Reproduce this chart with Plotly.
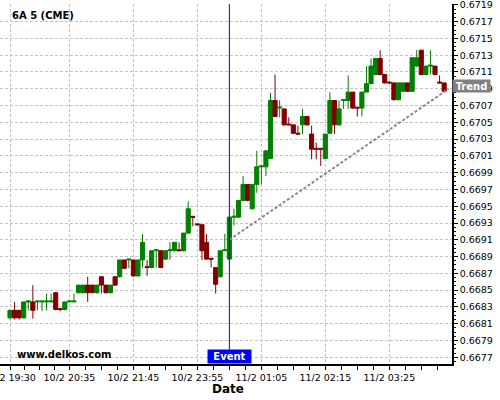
import pandas as pd
import plotly.graph_objects as go

# ---- data ----
seg1 = pd.date_range("2025-02-10 19:30", periods=30, freq="5min")
seg2 = pd.date_range("2025-02-10 23:00", periods=66, freq="5min")
times = [f"{d.day}/{d.month} {d:%H:%M}" for d in list(seg1) + list(seg2)]

open_ = [0.66817, 0.66826, 0.66826, 0.66817, 0.66836, 0.66836, 0.66836, 0.66836, 0.66836, 0.66836,
         0.66847, 0.66828, 0.66827, 0.66836, 0.66836, 0.66847, 0.66847, 0.66856, 0.66856, 0.66847,
         0.66866, 0.66856, 0.66847, 0.66866, 0.66866, 0.66886, 0.66886, 0.66886, 0.66867, 0.66886,
         0.66878, 0.66877, 0.66897, 0.66897, 0.66887, 0.66897, 0.66897, 0.66898, 0.66897, 0.66918,
         0.66938, 0.66929, 0.66928, 0.66907, 0.66888, 0.66877, 0.66866, 0.66897, 0.66887, 0.66937,
         0.66937, 0.66957, 0.66976, 0.66947, 0.66976, 0.66997, 0.66997, 0.67007, 0.67076, 0.67067,
         0.67066, 0.67048, 0.67047, 0.67037, 0.67047, 0.67057, 0.67036, 0.67019, 0.67019, 0.67007,
         0.67037, 0.67076, 0.67047, 0.67076, 0.67076, 0.67086, 0.67068, 0.67067, 0.67086, 0.67096,
         0.67107, 0.67126, 0.67107, 0.67098, 0.67097, 0.67077, 0.67087, 0.67097, 0.67087, 0.67117,
         0.67136, 0.67107, 0.67117, 0.67117, 0.67098, 0.67097]
high = [0.66826, 0.66836, 0.66826, 0.66836, 0.66838, 0.66856, 0.66837, 0.66837, 0.66846, 0.66846,
        0.66847, 0.66828, 0.66836, 0.66837, 0.66846, 0.66856, 0.66856, 0.66866, 0.66856, 0.66856,
        0.66866, 0.66856, 0.66856, 0.66866, 0.66886, 0.66886, 0.66887, 0.66886, 0.66886, 0.66917,
        0.66886, 0.66897, 0.66898, 0.66897, 0.66897, 0.66907, 0.66907, 0.66907, 0.66918, 0.66956,
        0.66938, 0.66929, 0.66928, 0.66917, 0.66888, 0.66877, 0.66897, 0.66917, 0.66937, 0.66947,
        0.66957, 0.66986, 0.66976, 0.66976, 0.67016, 0.66998, 0.67016, 0.67085, 0.67107, 0.67076,
        0.67066, 0.67056, 0.67047, 0.67046, 0.67066, 0.67057, 0.67046, 0.67026, 0.67019, 0.67036,
        0.67086, 0.67076, 0.67076, 0.67077, 0.67106, 0.67086, 0.67068, 0.67086, 0.67117, 0.67126,
        0.67127, 0.67136, 0.67107, 0.67098, 0.67097, 0.67097, 0.67097, 0.67097, 0.67127, 0.67136,
        0.67136, 0.67117, 0.67136, 0.67117, 0.67106, 0.67097]
low = [0.66815, 0.66815, 0.66815, 0.66816, 0.66826, 0.66816, 0.66826, 0.66825, 0.66826, 0.66836,
       0.66826, 0.66825, 0.66826, 0.66836, 0.66836, 0.66846, 0.66846, 0.66836, 0.66847, 0.66846,
       0.66846, 0.66846, 0.66846, 0.66855, 0.66865, 0.66875, 0.66876, 0.66866, 0.66866, 0.66877,
       0.66867, 0.66876, 0.66877, 0.66876, 0.66886, 0.66886, 0.66896, 0.66897, 0.66896, 0.66917,
       0.66926, 0.66927, 0.66886, 0.66886, 0.66877, 0.66846, 0.66865, 0.66897, 0.66886, 0.66927,
       0.66936, 0.66956, 0.66956, 0.66946, 0.66966, 0.66976, 0.66986, 0.67006, 0.67056, 0.67056,
       0.67046, 0.67047, 0.67036, 0.67035, 0.67036, 0.67046, 0.67006, 0.67006, 0.66998, 0.67006,
       0.67036, 0.67036, 0.67046, 0.67066, 0.67066, 0.67066, 0.67057, 0.67057, 0.67086, 0.67096,
       0.67106, 0.67106, 0.67096, 0.67096, 0.67076, 0.67076, 0.67086, 0.67086, 0.67086, 0.67116,
       0.67106, 0.67106, 0.67107, 0.67106, 0.67096, 0.67086]
close = [0.66826, 0.66817, 0.66817, 0.66836, 0.66837, 0.66826, 0.66837, 0.66837, 0.66837, 0.66837,
         0.66827, 0.66827, 0.66836, 0.66837, 0.66837, 0.66856, 0.66856, 0.66847, 0.66847, 0.66856,
         0.66856, 0.66847, 0.66856, 0.66856, 0.66886, 0.66876, 0.66887, 0.66867, 0.66886, 0.66907,
         0.66877, 0.66897, 0.66898, 0.66877, 0.66897, 0.66898, 0.66907, 0.66897, 0.66918, 0.66947,
         0.66937, 0.66928, 0.66897, 0.66887, 0.66887, 0.66857, 0.66897, 0.66898, 0.66937, 0.66938,
         0.66957, 0.66976, 0.66957, 0.66976, 0.66997, 0.66998, 0.67016, 0.67076, 0.67057, 0.67068,
         0.67047, 0.67047, 0.67037, 0.67036, 0.67057, 0.67047, 0.67018, 0.67018, 0.67018, 0.67036,
         0.67076, 0.67047, 0.67066, 0.67077, 0.67086, 0.67067, 0.67067, 0.67086, 0.67096, 0.67117,
         0.67126, 0.67107, 0.67097, 0.67097, 0.67077, 0.67097, 0.67097, 0.67087, 0.67127, 0.67127,
         0.67107, 0.67117, 0.67118, 0.67107, 0.67097, 0.67087]

tick_labels = ["10/2 19:30", "10/2 20:35", "10/2 21:45", "10/2 23:55",
               "11/2 01:05", "11/2 02:15", "11/2 03:25"]
event_time = "11/2 00:30"
trend_prices = [0.66910, 0.67090]

title_text = "6A 5 (CME)"
watermark = "www.delkos.com"

# ---- derived positions ----
idx = list(range(len(times)))
tickvals = [times.index(t) for t in tick_labels]
event_idx = times.index(event_time)
trend_x = [event_idx, len(times)]

minor_vals = []
for a, b in zip(tickvals[:-1], tickvals[1:]):
    for k in range(1, 4):
        minor_vals.append(a + (b - a) * k / 4)
step = (tickvals[-1] - tickvals[-2]) / 4
v = tickvals[-1] + step
while v < len(times) + 1:
    minor_vals.append(v)
    v += step

GREEN = "#008000"
RED = "#800000"
FONT = "DejaVu Sans"
PLOT_W, PLOT_H = 452, 360

fig = go.Figure()
fig.add_trace(go.Candlestick(
    x=idx, open=open_, high=high, low=low, close=close,
    increasing=dict(line=dict(color=GREEN, width=1), fillcolor=GREEN),
    decreasing=dict(line=dict(color=RED, width=1), fillcolor=RED),
    whiskerwidth=0, showlegend=False, hoverinfo="skip",
))
fig.add_trace(go.Scatter(
    x=trend_x, y=trend_prices, mode="lines",
    line=dict(color="#8a8a8a", width=2, dash="3px,2px"),
    showlegend=False, hoverinfo="skip",
))

fig.add_shape(type="line", xref="x", yref="paper",
              x0=event_idx, x1=event_idx, y0=14 / PLOT_H, y1=1,
              line=dict(color="#0000ee", width=1))

fig.add_annotation(x=event_idx, xref="x", y=0, yref="paper",
                   xanchor="center", yanchor="bottom", text="<b>Event</b>",
                   showarrow=False, bgcolor="#0000ff", width=43, height=13,
                   borderpad=0, font=dict(family=FONT, size=10, color="white"))
fig.add_annotation(x=1, xref="paper", y=trend_prices[-1], yref="y",
                   xanchor="left", yanchor="middle", text="<b>Trend</b>",
                   showarrow=False, bgcolor="#808080", width=37, height=12,
                   borderpad=0, yshift=3,
                   font=dict(family=FONT, size=10, color="white"))
fig.add_annotation(x=10 / PLOT_W, xref="paper", y=1 - 11 / PLOT_H, yref="paper",
                   xanchor="left", yanchor="middle",
                   text=f"<b>{title_text}</b>", showarrow=False,
                   font=dict(family=FONT, size=10, color="black"))
fig.add_annotation(x=15 / PLOT_W, xref="paper", y=10 / PLOT_H, yref="paper",
                   text=f"<b>{watermark}</b>",
                   showarrow=False, xanchor="left", yanchor="middle",
                   font=dict(family=FONT, size=10, color="black"))
fig.add_annotation(x=228 / PLOT_W, xref="paper", y=-25 / PLOT_H, yref="paper",
                   text="<b>Date</b>",
                   showarrow=False, xanchor="center", yanchor="middle",
                   font=dict(family=FONT, size=12, color="black"))

fig.update_layout(
    width=500, height=400,
    margin=dict(l=0, r=48, t=4, b=36, autoexpand=False),
    paper_bgcolor="white", plot_bgcolor="white",
    font=dict(family=FONT, size=9.5, color="black"),
    boxgap=0.1, boxgroupgap=0,
    showlegend=False,
    xaxis=dict(
        range=[-2.19, 96.72], rangeslider=dict(visible=False),
        automargin=False,
        tickmode="array", tickvals=tickvals, ticktext=tick_labels,
        ticks="outside", ticklen=4, tickcolor="black",
        ticklabeloverflow="allow",
        showgrid=True, gridcolor="#c4c4c4", griddash="3px,2px", gridwidth=1,
        showline=True, linecolor="black", linewidth=1.5,
        zeroline=False,
        minor=dict(tickmode="array", tickvals=minor_vals, ticks="outside",
                   ticklen=4, tickcolor="black", showgrid=False),
        tickfont=dict(family=FONT, size=9.5),
    ),
    yaxis=dict(
        side="right", range=[0.66762, 0.67191],
        automargin=False,
        tick0=0.6677, dtick=0.0002, tickformat=".4f",
        ticks="outside", ticklen=4, tickcolor="black",
        ticklabeloverflow="allow",
        showgrid=True, gridcolor="#c4c4c4", griddash="3px,2px", gridwidth=1,
        showline=True, linecolor="black", linewidth=1.5,
        zeroline=False,
        minor=dict(dtick=0.00005, ticks="outside", ticklen=2,
                   tickcolor="black", showgrid=False),
        tickfont=dict(family=FONT, size=9.5),
    ),
)

fig.write_html("out.html", config={"displayModeBar": False},
               post_script="document.body.style.margin='0';")
